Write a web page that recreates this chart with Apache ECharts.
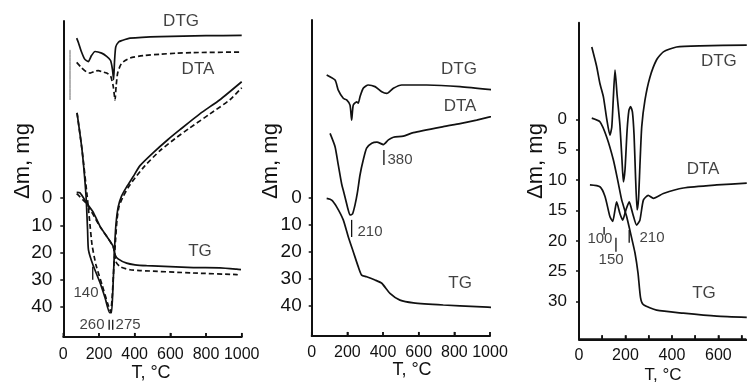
<!DOCTYPE html>
<html><head><meta charset="utf-8">
<script src="https://cdn.jsdelivr.net/npm/echarts@6/dist/echarts.min.js"></script>
<style>html,body{margin:0;padding:0;background:#fff}#c{width:747px;height:390px}</style>
</head><body><div id="c"></div>
<script>
// ---------- DATA (T in °C, value in chart units of Δm, mg; curves offset as in original) ----------
// Panel 1
const p1DtgSolid = [[75,-58.7],[85,-57],[100,-54],[120,-51],[140,-50.1],[158,-52.3],[178,-53.8],[215,-53.2],[243,-52],[265,-50.5],[276,-47],[282,-43.5],[287,-50],[294,-55.5],[310,-57.3],[327,-57.8],[374,-58.7],[542,-59.3],[800,-59.6],[1000,-59.7]];
const p1DtaDashed = [[75,-49.8],[100,-48],[130,-46.3],[150,-45.9],[175,-46.5],[196,-46.8],[220,-46.3],[243,-45.9],[265,-44.8],[280,-41],[290,-36],[296,-41],[305,-46],[327,-49.5],[374,-51.4],[450,-52.3],[542,-52.8],[636,-53.2],[727,-53.4],[1000,-53.6]];
const p1Vline = [[37.6,-54.4],[37.6,-36]];
const p1BigSolid = [[77,-31.3],[105,-17.7],[127,-1.2],[136,11.6],[141,19],[166,24.5],[206,31.1],[234,36.6],[260,42.1],[270,42.1],[279,31.8],[287,19],[295,9.8],[308,3.2],[327,-0.8],[355,-4.1],[391,-7.8],[430,-11.9],[503,-16.6],[587,-21.5],[654,-25.1],[767,-31],[878,-36.1],[1000,-42.7]];
const p1BigDashed = [[77,-31.3],[105,-17.7],[133,-1.2],[147,8],[161,17.1],[183,24.5],[217,31.8],[251,39.2],[265,41.7],[273,37.3],[284,24.5],[293,15.3],[301,8],[312,3.2],[335,-0.5],[363,-3.8],[402,-7.4],[458,-11.9],[542,-17.4],[626,-21.8],[710,-25.8],[822,-30.9],[934,-36.1],[1000,-40.5]];
const p1TgSolid = [[75,-2.1],[94,-1.9],[131,1.8],[166,5],[206,10.4],[245,14.2],[280,17.8],[290,20.8],[307,22.3],[355,23.9],[402,24.5],[467,24.8],[729,25.5],[878,25.6],[972,26.1],[996,26.3]];
const p1TgDashed = [[75,-1.6],[131,2.1],[206,10.5],[280,17.9],[295,23.4],[318,25.2],[374,26.3],[430,26.6],[727,27.5],[972,28.1],[996,28.3]];
const p1Marks = [[[165,25.2],[165,30]],[[257,44.7],[257,48.3]],[[277,44.7],[277,48.3]]];
const p1Texts = ['DTG','DTA','TG','140','260','275'];
const p1TextAt = [[660,-65],[755,-47.4],[766,19.7],[127,34.7],[161,46.5],[363,46.5]];

// Panel 2
const p2Dtg = [[84,-45],[131,-43.1],[149,-39.4],[177,-36.4],[196,-35.8],[215,-33.9],[224,-28.4],[233,-33.9],[252,-35.1],[261,-34.6],[271,-37],[289,-40.1],[317,-41.3],[355,-40.7],[393,-38.8],[421,-38.2],[458,-40.1],[505,-41.3],[645,-41.3],[832,-40.7],[1057,-39.2]];
const p2Dta = [[103,-23.5],[131,-18.6],[149,-11.9],[168,-4.9],[181,-1.6],[195,2.1],[205,4.7],[215,6.5],[229,6.1],[243,2.8],[256,-1.6],[271,-8.2],[289,-13.7],[308,-18.1],[337,-19.9],[366,-20.3],[402,-19.4],[430,-21.1],[458,-22.1],[514,-22.5],[570,-23.8],[738,-26],[832,-27.1],[925,-28.4],[1056,-30.5]];
const p2Tg = [[84,0.4],[112,1],[140,3.5],[177,8.3],[205,14.5],[233,20],[261,25.5],[280,28.6],[308,29.2],[355,30.4],[393,31.6],[439,35.3],[495,37.8],[570,38.8],[738,39.6],[925,40.2],[1056,40.6]];
const p2Marks = [[[405,-17.4],[405,-11.9]],[[224,8.3],[224,14.6]]];
const p2Texts = ['DTG','DTA','TG','380','210'];
const p2TextAt = [[826,-47.2],[832,-33.6],[832,31.5],[495,-13.7],[327,12.8]];

// Panel 3
const p3Dtg = [[55,-11.9],[76,-8.7],[90,-5.9],[105,-3.7],[120,0.1],[133,2.6],[141,1.3],[148,-3.7],[155,-8.1],[164,-4],[176,0.9],[185,6.7],[191,10.3],[198,8.3],[207,1.8],[215,-1.5],[222,-2.1],[230,-1.2],[237,2.6],[243,9.1],[250,14.9],[256,13.2],[262,7.8],[270,1.2],[284,-3.2],[305,-6.9],[334,-9.8],[363,-11.1],[420,-11.9],[521,-12.1],[722,-12.2]];
const p3Dta = [[47,10.8],[90,11.1],[112,12.7],[133,16],[145,16.8],[155,14.9],[162,13.6],[176,15.5],[188,16.6],[202,14.9],[216,13.6],[231,15.5],[248,17.4],[262,16.6],[277,13.3],[298,12.5],[320,13],[363,12.2],[449,11.3],[593,10.8],[722,10.5]];
const p3Tg = [[55,-0.2],[90,0.4],[119,2.9],[148,6.7],[168,10.3],[184,13.3],[205,16],[227,19.6],[241,22],[254,25.3],[265,29.4],[277,30.5],[334,31.4],[449,31.9],[593,32.4],[722,32.6]];
const p3Marks = [[[108,17.7],[108,19]],[[159,19.5],[159,21.8]],[[216,18.2],[216,20.3]]];
const p3Texts = ['DTG','DTA','TG','100','150','210'];
const p3TextAt = [[602,-9.6],[534,8.2],[538,28.6],[90,19.7],[138,23.1],[314,19.5]];

// Axis ticks / ranges
const xTicks12 = [0,200,400,600,800,1000];
const yTicks12 = [0,10,20,30,40];
const xTicks3 = [0,100,200,300,400,500,600,700];
const xLabels3 = [0,200,400,600];
const yTicks3 = [0,5,10,15,20,25,30];
const xMax = [1000, 1000, 720];
const yMin = [-65, -65.2, -15.9];
const yMax = [51, 51, 36.2];
const yTitle = 'Δm, mg';
const xTitle = 'T, °C';

// ---------- CHART ----------
const FONT = 'Liberation Sans, Arial, sans-serif';
const grids = [
  {left:63.3, top:21, width:178.4, height:316},
  {left:311.7, top:20, width:178.3, height:316},
  {left:579, top:22.7, width:167.3, height:316.6}
];
const plain = v => String(v);
function xAx(i, ticks, labels, margin){
  return {gridIndex:i, type:'value', position:'bottom', min:0, max:xMax[i],
    axisLine:{show:true, onZero:false, lineStyle:{color:'#111', width:2}}, splitLine:{show:false},
    axisTick:{show:true, inside:true, length:4, customValues:ticks, lineStyle:{color:'#111',width:1.5}},
    axisLabel:{customValues:labels, formatter:plain, margin:margin, fontSize:16, color:'#111', fontFamily:FONT}};
}
function yAx(i, ticks, margin, fs){
  return {gridIndex:i, type:'value', position:'left', inverse:true, min:yMin[i], max:yMax[i],
    axisLine:{show:true, onZero:false, lineStyle:{color:'#111', width:2}}, splitLine:{show:false},
    axisTick:{show:true, inside:false, length:3, customValues:ticks, lineStyle:{color:'#111',width:1.5}},
    axisLabel:{customValues:ticks, formatter:plain, margin:margin, fontSize:fs, color:'#111', fontFamily:FONT}};
}
function line(i, data, dashed, w){
  return {type:'line', xAxisIndex:i, yAxisIndex:i, data:data, showSymbol:false, symbol:'none',
    smooth:0.2, clip:false, silent:true,
    lineStyle:{color: dashed==='thin' ? '#666' : '#111', width:w||1.7, type: dashed===true ? [5,3] : 'solid'}};
}
function straight(i, data, w){
  return {type:'line', xAxisIndex:i, yAxisIndex:i, data:data, showSymbol:false, symbol:'none',
    smooth:false, clip:false, silent:true, z:5, lineStyle:{color:'#111', width:w, type:'solid', cap:'butt'}};
}
// bottom axis baseline + inward ticks, drawn through the panel's own scales
function baseline(i, ticks, tickLenUnits){
  const out = [straight(i, [[0,yMax[i]],[xMax[i],yMax[i]]], 2)];
  ticks.forEach(t => out.push(straight(i, [[t,yMax[i]],[t,yMax[i]-tickLenUnits]], 1.5)));
  return out;
}
function texts(i, names, at, fs){
  return {type:'scatter', xAxisIndex:i, yAxisIndex:i, symbolSize:0, clip:false, silent:true,
    data: names.map((n,k)=>({name:n, value:at[k]})),
    label:{show:true, position:'inside', formatter:'{b}', color:'#111', fontSize:fs, fontFamily:FONT}};
}
const series = [
  line(0,p1DtgSolid,false), line(0,p1DtaDashed,true), line(0,p1Vline,'thin',1),
  line(0,p1BigSolid,false), line(0,p1BigDashed,true), line(0,p1TgSolid,false), line(0,p1TgDashed,true),
  ...p1Marks.map(m=>line(0,m,false,1.3)),
  line(1,p2Dtg,false), line(1,p2Dta,false), line(1,p2Tg,false),
  ...p2Marks.map(m=>line(1,m,false,1.3)),
  line(2,p3Dtg,false), line(2,p3Dta,false), line(2,p3Tg,false),
  ...p3Marks.map(m=>line(2,m,false,1.3)),
  ...baseline(0, xTicks12, 1.5), ...baseline(1, xTicks12, 1.5), ...baseline(2, xTicks3, 0.66),
  texts(0,p1Texts.slice(0,3),p1TextAt.slice(0,3),17),
  texts(0,p1Texts.slice(3),p1TextAt.slice(3),15),
  texts(1,p2Texts.slice(0,3),p2TextAt.slice(0,3),17),
  texts(1,p2Texts.slice(3),p2TextAt.slice(3),15),
  texts(2,p3Texts.slice(0,3),p3TextAt.slice(0,3),17),
  texts(2,p3Texts.slice(3),p3TextAt.slice(3),15)
];
function gtext(x,y,t,rot,fs){
  return {type:'text', x:x, y:y, rotation:rot, silent:true,
    style:{text:t, fontSize:fs, fontFamily:FONT, fill:'#111', align:'center', verticalAlign:'middle'}};
}
const option = {
  animation:false, backgroundColor:'#fff',
  grid: grids,
  xAxis: [xAx(0,xTicks12,xTicks12,10), xAx(1,xTicks12,xTicks12,9), xAx(2,xTicks3,xLabels3,8)],
  yAxis: [yAx(0,yTicks12,11,19), yAx(1,yTicks12,10,19), yAx(2,yTicks3,12,17)],
  series: series,
  graphic: [
    gtext(23,161,yTitle,Math.PI/2,22), gtext(271,161,yTitle,Math.PI/2,22), gtext(536,161,yTitle,Math.PI/2,22),
    gtext(151,373,xTitle,0,18), gtext(412,370,xTitle,0,18), gtext(663,375,xTitle,0,17)
  ]
};
const chart = echarts.init(document.getElementById('c'), null, {renderer:'canvas'});
chart.setOption(option);
</script></body></html>
